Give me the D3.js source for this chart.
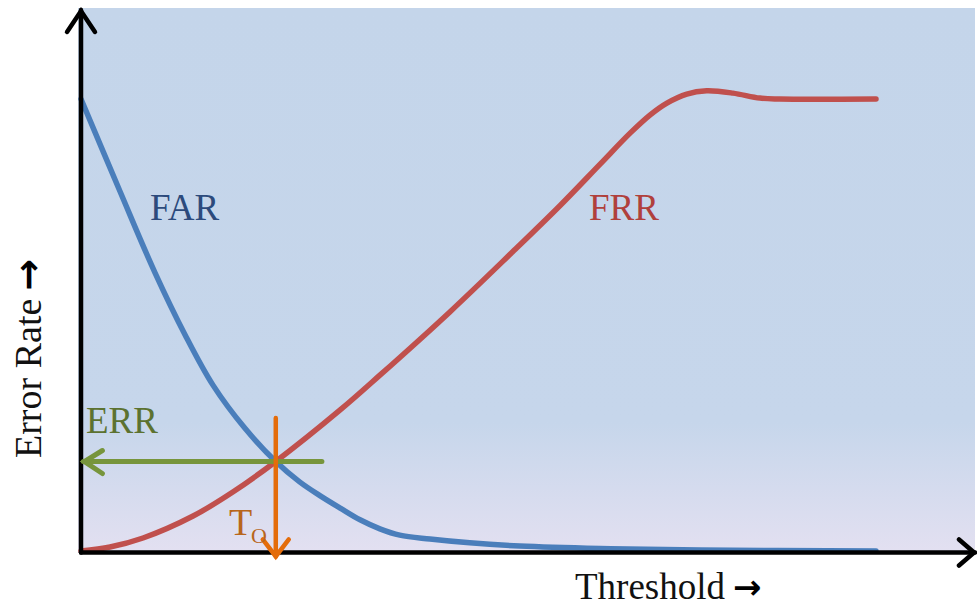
<!DOCTYPE html>
<html>
<head>
<meta charset="utf-8">
<script src="https://cdn.jsdelivr.net/npm/d3@7"></script>
<style>
  html, body { margin: 0; padding: 0; background: #ffffff; }
  svg { display: block; }
</style>
</head>
<body>
<svg id="chart" width="977" height="609"></svg>
<script>
// ---- Data (threshold units 0..100, error rate units 0..100) ----
const farThreshold = [0, 4.9, 9.3, 13.1, 16.6, 20.6, 24.5, 27.5, 30.1, 32.6, 35.1, 37.6, 40.1, 43.9, 48.9, 55.2, 65.3, 77.9, 100];
const farValues    = [100, 79.6, 61.6, 47.8, 36.7, 27.2, 19.8, 15.3, 12.2, 9.5, 6.9, 4.9, 3.5, 2.65, 1.8, 1.1, 0.55, 0.2, 0];

const frrThreshold = [0, 3.65, 7.8, 14.1, 19.1, 24.5, 32.6, 37.6, 46.4, 54.3, 60.3, 65.3, 69.1, 71.6, 73.7, 76.2, 78.7, 82.0, 85.4, 87.9, 100];
const frrValues    = [0, 0.88, 2.88, 7.74, 13.05, 19.8, 31.2, 38.9, 52.9, 66.2, 76.5, 85.6, 92.5, 96.5, 99.1, 101.1, 101.8, 101.3, 100.2, 100, 100];

const eerThreshold = 24.5;   // T0
const eerValue = 19.8;       // ERR
const errArrowStart = 30.3;  // green arrow right end (threshold units)
const errArrowEnd = 0.3;     // green arrow tip
const t0ArrowTop = 29.4;     // orange arrow top (error units)
const t0ArrowBottom = -1.2;  // orange arrow tip

const labels = { far: "FAR", frr: "FRR", err: "ERR", t: "T", tSub: "O",
                 xTitle: "Threshold", yTitle: "Error Rate", arrow: "\u2192" };

// ---- Scales ----
const x = d3.scaleLinear().domain([0, 100]).range([81, 876]);
const y = d3.scaleLinear().domain([0, 100]).range([551, 99]);

const svg = d3.select("#chart");
const font = "'Liberation Serif', 'Times New Roman', serif";
const arrowFont = "'DejaVu Sans', sans-serif";

// background gradient
const defs = svg.append("defs");
const grad = defs.append("linearGradient").attr("id", "bg").attr("x1", 0).attr("y1", 0).attr("x2", 0).attr("y2", 1);
grad.append("stop").attr("offset", "0").attr("stop-color", "#c4d5ea");
grad.append("stop").attr("offset", "0.76").attr("stop-color", "#c6d6eb");
grad.append("stop").attr("offset", "1").attr("stop-color", "#e3e0f1");

const xAxisEnd = x.invert(975), yAxisTop = y.invert(10);
svg.append("rect")
  .attr("x", x(0) - 3).attr("y", y(yAxisTop) - 2)
  .attr("width", x(xAxisEnd) - x(0) + 3).attr("height", y(0) - y(yAxisTop) + 4)
  .attr("fill", "url(#bg)");

// ---- Curves ----
const line = d3.line().x(d => x(d[0])).y(d => y(d[1])).curve(d3.curveCatmullRom.alpha(0.5));
const farData = d3.zip(farThreshold, farValues);
const frrData = d3.zip(frrThreshold, frrValues);

svg.append("path").attr("d", line(frrData))
  .attr("fill", "none").attr("stroke", "#c0504d").attr("stroke-width", 5.5)
  .attr("stroke-linecap", "round").attr("stroke-linejoin", "round");
svg.append("path").attr("d", line(farData))
  .attr("fill", "none").attr("stroke", "#4a7ebb").attr("stroke-width", 5.5)
  .attr("stroke-linecap", "round").attr("stroke-linejoin", "round");

// ---- Axes (arrows) ----
const axisY = y(0) + 1.5;
const ax = svg.append("g").attr("stroke", "#000").attr("stroke-width", 4.5).attr("fill", "none")
  .attr("stroke-linecap", "round").attr("stroke-linejoin", "miter");
ax.append("line").attr("x1", x(0)).attr("y1", axisY).attr("x2", x(xAxisEnd)).attr("y2", axisY);
ax.append("line").attr("x1", x(0)).attr("y1", axisY).attr("x2", x(0)).attr("y2", y(yAxisTop));
ax.append("path").attr("d", `M${x(0) - 14},${y(yAxisTop) + 22} L${x(0)},${y(yAxisTop) + 1} L${x(0) + 14},${y(yAxisTop) + 22}`);
ax.append("path").attr("d", `M${x(xAxisEnd) - 16},${axisY - 13} L${x(xAxisEnd) - 1},${axisY} L${x(xAxisEnd) - 16},${axisY + 13}`);

// ---- ERR green arrow ----
const g1 = svg.append("g").attr("stroke", "#77953c").attr("stroke-width", 5).attr("fill", "none").attr("stroke-linecap", "round");
g1.append("line").attr("x1", x(errArrowStart)).attr("y1", y(eerValue)).attr("x2", x(errArrowEnd)).attr("y2", y(eerValue));
g1.append("path").attr("d", `M${x(errArrowEnd) + 19},${y(eerValue) - 11} L${x(errArrowEnd) + 1},${y(eerValue)} L${x(errArrowEnd) + 19},${y(eerValue) + 12}`);

// ---- T0 orange arrow ----
const g2 = svg.append("g").attr("stroke", "#e46c0a").attr("stroke-width", 4.5).attr("fill", "none").attr("stroke-linecap", "round");
g2.append("line").attr("x1", x(eerThreshold)).attr("y1", y(t0ArrowTop)).attr("x2", x(eerThreshold)).attr("y2", y(t0ArrowBottom));
g2.append("path").attr("d", `M${x(eerThreshold) - 13},${y(t0ArrowBottom) - 17} L${x(eerThreshold)},${y(t0ArrowBottom)} L${x(eerThreshold) + 13},${y(t0ArrowBottom) - 17}`);

// ---- Labels ----
svg.append("text").attr("x", 150).attr("y", 220).text(labels.far)
  .attr("font-family", font).attr("font-size", 37).attr("fill", "#2c4a7c");
svg.append("text").attr("x", 589).attr("y", 220).text(labels.frr)
  .attr("font-family", font).attr("font-size", 37).attr("fill", "#b0403c");
svg.append("text").attr("x", 86).attr("y", 433).text(labels.err)
  .attr("font-family", font).attr("font-size", 37).attr("fill", "#5c7230");
svg.append("text").attr("x", 229).attr("y", 535).text(labels.t)
  .attr("font-family", font).attr("font-size", 38).attr("fill", "#b8661c");
svg.append("text").attr("x", 251).attr("y", 543).text(labels.tSub)
  .attr("font-family", font).attr("font-size", 22).attr("fill", "#b8661c");

const xt = svg.append("text").attr("x", 575).attr("y", 599)
  .attr("font-family", font).attr("font-size", 37).attr("fill", "#111");
xt.append("tspan").text(labels.xTitle);
xt.append("tspan").attr("dx", 8).attr("font-family", arrowFont).attr("font-weight", "bold")
  .attr("font-size", 34).attr("fill", "#000").text(labels.arrow);

const yt = svg.append("text").attr("transform", "translate(41,458) rotate(-90)")
  .attr("font-family", font).attr("font-size", 38).attr("fill", "#111");
yt.append("tspan").text(labels.yTitle);
yt.append("tspan").attr("dx", 8).attr("font-family", arrowFont).attr("font-weight", "bold")
  .attr("font-size", 38).attr("fill", "#000").text(labels.arrow);
</script>
</body>
</html>
